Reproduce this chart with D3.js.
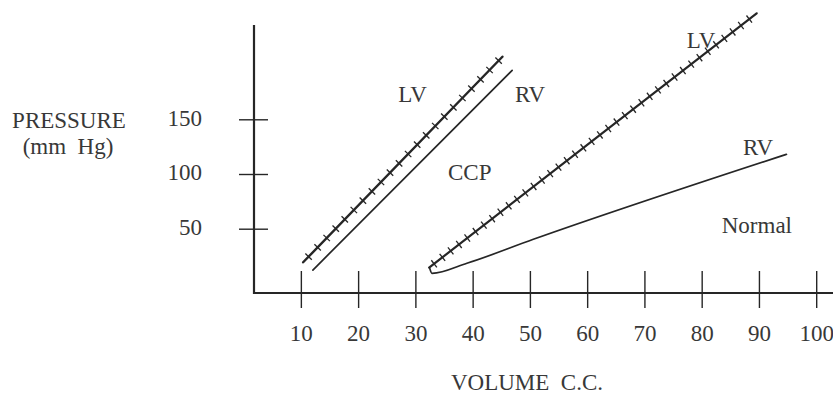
<!DOCTYPE html>
<html>
<head>
<meta charset="utf-8">
<script src="https://cdn.jsdelivr.net/npm/d3@7"></script>
<style>
  body { margin: 0; background: #fff; }
  text { font-family: "Liberation Serif", "Times New Roman", serif; fill: #383838; }
</style>
</head>
<body>
<svg id="chart" width="833" height="395"></svg>
<script>
// tick labels
const volumeTicks = [10, 20, 30, 40, 50, 60, 70, 80, 90, 100];
const pressureTicks = [50, 100, 150];

// CCP (constrictive pericarditis) curves
const ccpLvVolume = [10.4, 45.2];
const ccpLvPressure = [19.3, 207.2];
const ccpRvVolume = [12.1, 46.9];
const ccpRvPressure = [12.2, 194.8];

// normal curves
const normalLvVolume = [32.4, 62.2, 89.6];
const normalLvPressure = [14.4, 135.6, 246.9];
const normalRvVolume = [32.5, 32.9, 39.0, 50.6, 94.8];
const normalRvPressure = [13.8, 9.2, 18.4, 40.3, 118.0];

const curveNames = ["LV", "RV", "CCP", "LV", "RV", "Normal"];

const svg = d3.select("#chart");

const x = d3.scaleLinear().domain([0, 100]).range([243.6, 816.2]);
const y = d3.scaleLinear().domain([0, 200]).range([283.4, 64.6]);

const ink = "#262626";
const fs = 23;

// x axis
const xAxisY = 293;
const xAxis = svg.append("g")
  .attr("transform", `translate(0,${xAxisY})`)
  .call(d3.axisBottom(x).tickValues(volumeTicks).tickSize(15).tickPadding(32));
xAxis.select(".domain").remove();
xAxis.append("line")
  .attr("x1", 253).attr("x2", 833)
  .attr("stroke", ink).attr("stroke-width", 2.2);
xAxis.selectAll(".tick line")
  .attr("y1", -22).attr("y2", 15)
  .attr("stroke", ink).attr("stroke-width", 1.4);
xAxis.selectAll(".tick text")
  .attr("font-size", fs)
  .attr("font-family", "Liberation Serif")
  .attr("fill", "#383838")
  .attr("dy", "0.05em");

// y axis
const yAxisX = 254;
const yAxis = svg.append("g")
  .attr("transform", `translate(${yAxisX},0)`)
  .call(d3.axisLeft(y).tickValues(pressureTicks).tickSize(15).tickPadding(37));
yAxis.select(".domain").remove();
yAxis.append("line")
  .attr("y1", 25).attr("y2", xAxisY + 1)
  .attr("stroke", ink).attr("stroke-width", 2.2);
yAxis.selectAll(".tick line")
  .attr("x1", -15).attr("x2", 14)
  .attr("stroke", ink).attr("stroke-width", 1.4);
yAxis.selectAll(".tick text")
  .attr("font-size", fs)
  .attr("font-family", "Liberation Serif")
  .attr("fill", "#383838")
  .attr("dy", "0.25em");

// axis titles
svg.append("text").attr("x", 69).attr("y", 128.3)
  .attr("text-anchor", "middle").attr("font-size", fs).text("PRESSURE");
svg.append("text").attr("x", 68).attr("y", 153.5)
  .attr("text-anchor", "middle").attr("font-size", fs)
  .style("white-space", "pre").text("(mm  Hg)");
svg.append("text").attr("x", 527).attr("y", 390)
  .attr("text-anchor", "middle").attr("font-size", fs)
  .style("white-space", "pre").text("VOLUME  C.C.");

// curves
const line = d3.line()
  .x(d => x(d[0]))
  .y(d => y(d[1]));

function drawCurve(vols, press, width, curve, hatchStep) {
  const pts = vols.map((v, i) => [v, press[i]]);
  const path = svg.append("path")
    .datum(pts)
    .attr("d", line.curve(curve)(pts))
    .attr("fill", "none")
    .attr("stroke", ink)
    .attr("stroke-width", width)
    .attr("stroke-linecap", "round");
  if (!hatchStep) return;
  // cross-hatch marks along the LV curves
  const node = path.node();
  const len = node.getTotalLength();
  const marks = [];
  for (let s = hatchStep * 0.6; s < len - 2; s += hatchStep) {
    const p0 = node.getPointAtLength(Math.max(0, s - 1));
    const p1 = node.getPointAtLength(Math.min(len, s + 1));
    const p = node.getPointAtLength(s);
    const dx = p1.x - p0.x, dy = p1.y - p0.y;
    const n = Math.hypot(dx, dy) || 1;
    marks.push({ x: p.x, y: p.y, nx: -dy / n, ny: dx / n });
  }
  svg.append("g").selectAll("line")
    .data(marks)
    .join("line")
    .attr("x1", d => d.x - d.nx * 4.5)
    .attr("y1", d => d.y - d.ny * 4.5)
    .attr("x2", d => d.x + d.nx * 4.5)
    .attr("y2", d => d.y + d.ny * 4.5)
    .attr("stroke", ink)
    .attr("stroke-width", 1.3);
}

drawCurve(ccpLvVolume, ccpLvPressure, 2.4, d3.curveLinear, 13);
drawCurve(ccpRvVolume, ccpRvPressure, 1.7, d3.curveLinear, 0);
drawCurve(normalLvVolume, normalLvPressure, 2.2, d3.curveLinear, 10.5);
drawCurve(normalRvVolume, normalRvPressure, 1.7, d3.curveMonotoneX, 0);

// curve labels, placed in data units
const labelAnchors = [[27.0, 166.1], [47.4, 166.1], [35.7, 94.5], [77.4, 214.9], [87.2, 117.4], [83.5, 45.8]];
svg.append("g").selectAll("text")
  .data(curveNames)
  .join("text")
  .attr("x", (d, i) => x(labelAnchors[i][0]))
  .attr("y", (d, i) => y(labelAnchors[i][1]))
  .attr("font-size", fs)
  .text(d => d);
</script>
</body>
</html>
